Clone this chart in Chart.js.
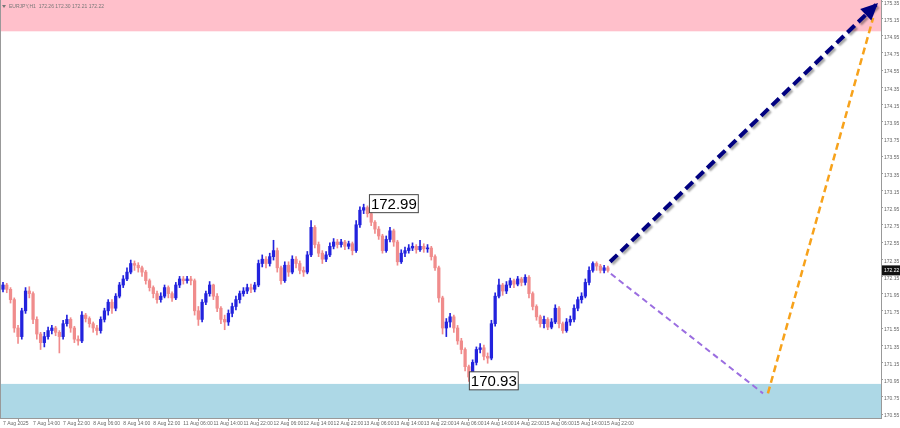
<!DOCTYPE html>
<html>
<head>
<meta charset="utf-8">
<script src="https://cdn.jsdelivr.net/npm/chart.js@4.4.1/dist/chart.umd.min.js"></script>
<style>
  html, body { margin: 0; padding: 0; background: #fff; }
</style>
</head>
<body>
<canvas id="chart" width="900" height="428"></canvas>
<script>
// hourly candles, bar index 0..161 (open = previous close)
const firstOpen = 172.00;
const closes = [
  172.05, 172.00, 171.88, 171.55, 171.45, 171.75, 171.98, 171.95, 171.65, 171.48,
  171.38, 171.45, 171.52, 171.55, 171.50, 171.45, 171.60, 171.65, 171.55, 171.42,
  171.40, 171.70, 171.66, 171.60, 171.55, 171.52, 171.65, 171.75, 171.85, 171.78,
  171.92, 172.05, 172.12, 172.20, 172.30, 172.28, 172.25, 172.20, 172.10, 172.02,
  171.95, 171.88, 171.92, 172.02, 171.95, 171.90, 172.05, 172.12, 172.10, 172.12,
  172.10, 171.75, 171.65, 171.85, 171.95, 172.05, 171.92, 171.78, 171.65, 171.62,
  171.72, 171.80, 171.88, 171.95, 171.98, 172.02, 172.00, 172.05, 172.30, 172.35,
  172.30, 172.38, 172.45, 172.25, 172.10, 172.28, 172.20, 172.35, 172.30, 172.22,
  172.20, 172.40, 172.72, 172.52, 172.42, 172.35, 172.40, 172.50, 172.55, 172.52,
  172.55, 172.50, 172.53, 172.45, 172.75, 172.92, 172.95, 172.88, 172.78, 172.70,
  172.62, 172.45, 172.58, 172.68, 172.55, 172.32, 172.42, 172.45, 172.48, 172.50,
  172.46, 172.50, 172.47, 172.48, 172.38, 172.25, 171.90, 171.55, 171.62, 171.68,
  171.55, 171.40, 171.30, 171.10, 170.98, 171.15, 171.30, 171.32, 171.22, 171.20,
  171.60, 171.92, 172.05, 171.98, 172.05, 172.10, 172.06, 172.12, 172.08, 172.14,
  171.95, 171.80, 171.68, 171.60, 171.65, 171.56, 171.62, 171.78, 171.60, 171.52,
  171.62, 171.65, 171.78, 171.88, 171.92, 172.08, 172.22, 172.30, 172.27, 172.22,
  172.25, 172.22
];
const highs = [
  172.08, 172.07, 172.02, 171.90, 171.58, 171.78, 172.02, 172.03, 171.97, 171.68,
  171.50, 171.50, 171.56, 171.58, 171.57, 171.52, 171.64, 171.70, 171.67, 171.57,
  171.46, 171.74, 171.72, 171.68, 171.62, 171.58, 171.68, 171.78, 171.88, 171.88,
  171.95, 172.08, 172.16, 172.25, 172.34, 172.33, 172.31, 172.27, 172.22, 172.12,
  172.04, 171.98, 171.96, 172.05, 172.04, 171.97, 172.08, 172.15, 172.15, 172.15,
  172.15, 172.12, 171.80, 171.88, 171.98, 172.09, 172.06, 171.95, 171.80, 171.70,
  171.76, 171.84, 171.92, 171.98, 172.02, 172.06, 172.06, 172.08, 172.34, 172.40,
  172.38, 172.42, 172.57, 172.48, 172.27, 172.32, 172.32, 172.39, 172.38, 172.33,
  172.26, 172.44, 172.80, 172.74, 172.55, 172.45, 172.44, 172.54, 172.59, 172.58,
  172.58, 172.57, 172.56, 172.55, 172.80, 172.96, 172.99, 172.97, 172.90, 172.80,
  172.73, 172.64, 172.62, 172.72, 172.70, 172.57, 172.46, 172.49, 172.52, 172.54,
  172.52, 172.57, 172.53, 172.52, 172.50, 172.40, 172.27, 171.92, 171.66, 171.72,
  171.70, 171.58, 171.43, 171.32, 171.12, 171.18, 171.33, 171.37, 171.35, 171.26,
  171.64, 171.96, 172.12, 172.07, 172.09, 172.13, 172.12, 172.15, 172.14, 172.17,
  172.16, 171.97, 171.82, 171.70, 171.69, 171.67, 171.66, 171.82, 171.80, 171.62,
  171.66, 171.69, 171.82, 171.91, 171.96, 172.12, 172.26, 172.32, 172.32, 172.29,
  172.28, 172.27
];
const lows = [
  171.97, 171.96, 171.84, 171.50, 171.37, 171.42, 171.72, 171.90, 171.60, 171.42,
  171.30, 171.33, 171.42, 171.48, 171.46, 171.26, 171.42, 171.57, 171.50, 171.38,
  171.35, 171.38, 171.62, 171.56, 171.50, 171.47, 171.49, 171.62, 171.70, 171.72,
  171.75, 171.90, 172.02, 172.10, 172.18, 172.22, 172.20, 172.15, 172.06, 171.98,
  171.90, 171.84, 171.85, 171.90, 171.90, 171.86, 171.88, 172.02, 172.06, 172.07,
  172.05, 171.70, 171.58, 171.62, 171.82, 171.92, 171.88, 171.74, 171.60, 171.53,
  171.58, 171.68, 171.76, 171.84, 171.92, 171.95, 171.96, 171.97, 172.03, 172.26,
  172.25, 172.27, 172.34, 172.20, 172.06, 172.08, 172.15, 172.18, 172.25, 172.18,
  172.15, 172.18, 172.38, 172.48, 172.38, 172.30, 172.32, 172.38, 172.47, 172.48,
  172.49, 172.46, 172.47, 172.40, 172.43, 172.72, 172.88, 172.84, 172.74, 172.65,
  172.58, 172.42, 172.43, 172.55, 172.50, 172.28, 172.30, 172.38, 172.42, 172.45,
  172.42, 172.44, 172.43, 172.43, 172.34, 172.22, 171.85, 171.48, 171.45, 171.56,
  171.50, 171.36, 171.25, 171.05, 170.93, 170.96, 171.12, 171.26, 171.18, 171.14,
  171.18, 171.57, 171.90, 171.93, 171.95, 172.02, 172.02, 172.04, 172.04, 172.05,
  171.90, 171.76, 171.64, 171.56, 171.55, 171.53, 171.54, 171.60, 171.55, 171.49,
  171.50, 171.58, 171.62, 171.75, 171.84, 171.90, 172.05, 172.20, 172.22, 172.19,
  172.19, 172.20
];

const xTickBars = [0, 8, 16, 24, 32, 40, 48, 56, 64, 72, 80, 88, 96, 104, 112, 120, 128, 136, 144, 152, 160];
const xLabels = ['7 Aug 2025', '7 Aug 14:00', '7 Aug 22:00', '8 Aug 06:00', '8 Aug 14:00', '8 Aug 22:00',
  '11 Aug 06:00', '11 Aug 14:00', '11 Aug 22:00', '12 Aug 06:00', '12 Aug 14:00', '12 Aug 22:00',
  '13 Aug 06:00', '13 Aug 14:00', '13 Aug 22:00', '14 Aug 06:00', '14 Aug 14:00', '14 Aug 22:00',
  '15 Aug 06:00', '15 Aug 14:00', '15 Aug 22:00'];
const yTicks = [175.35, 175.15, 174.95, 174.75, 174.55, 174.35, 174.15, 173.95, 173.75, 173.55, 173.35,
  173.15, 172.95, 172.75, 172.55, 172.35, 172.15, 171.95, 171.75, 171.55, 171.35, 171.15, 170.95, 170.75, 170.55];

// zones and forecast paths
const resistanceZone = [175.00, 175.40];
const supportZone = [170.40, 170.90];
const mainX = [161.6, 232.9];
const mainY = [172.32, 175.33];
const dipX = [161.8, 202.3];
const dipY = [172.18, 170.79];
const riseX = [203.6, 231.6];
const riseY = [170.79, 175.155];
const markBars = [97.4, 124.0];
const markValues = [172.99, 170.93];
const header = 'EURJPY,H1  172.26 172.30 172.21 172.22';

const opens = closes.map((c, i) => i === 0 ? firstOpen : closes[i - 1]);
const bullColor = '#2222dd';
const bearColor = '#f08c8c';
const candleColors = closes.map((c, i) => c >= opens[i] ? bullColor : bearColor);
const tickFont = { size: 5, family: '"Liberation Sans", Arial, sans-serif' };

const zonesPlugin = {
  id: 'zones',
  beforeDatasetsDraw(chart) {
    const { ctx, chartArea, scales } = chart;
    const y = scales.y;
    ctx.save();
    ctx.beginPath();
    ctx.rect(chartArea.left, chartArea.top, chartArea.right - chartArea.left, chartArea.bottom - chartArea.top);
    ctx.clip();
    ctx.fillStyle = '#ffc0cb';
    let t = y.getPixelForValue(resistanceZone[1]), b = y.getPixelForValue(resistanceZone[0]);
    ctx.fillRect(chartArea.left, t, chartArea.right - chartArea.left, b - t);
    ctx.fillStyle = '#add8e6';
    t = y.getPixelForValue(supportZone[1]); b = y.getPixelForValue(supportZone[0]);
    ctx.fillRect(chartArea.left, t, chartArea.right - chartArea.left, b - t);
    ctx.restore();
  }
};

const shadowPlugin = {
  id: 'shadow',
  beforeDatasetDraw(chart, args) {
    if (args.index === 0) {
      const ctx = chart.ctx;
      ctx.save();
      ctx.shadowColor = 'rgba(0,0,0,0.35)';
      ctx.shadowBlur = 2;
      ctx.shadowOffsetX = 2;
      ctx.shadowOffsetY = 2;
    }
  },
  afterDatasetDraw(chart, args) {
    if (args.index === 0) chart.ctx.restore();
  }
};

const overlayPlugin = {
  id: 'overlay',
  afterDatasetsDraw(chart) {
    const { ctx, scales } = chart;
    // arrow head on main forecast
    const pts = chart.getDatasetMeta(0).data;
    const p0 = pts[0], p1 = pts[pts.length - 1];
    const ang = Math.atan2(p1.y - p0.y, p1.x - p0.x);
    const len = 17, half = 8;
    ctx.save();
    ctx.fillStyle = '#000080';
    ctx.beginPath();
    ctx.moveTo(p1.x, p1.y);
    ctx.lineTo(p1.x - len * Math.cos(ang) + half * Math.sin(ang), p1.y - len * Math.sin(ang) - half * Math.cos(ang));
    ctx.lineTo(p1.x - len * Math.cos(ang) - half * Math.sin(ang), p1.y - len * Math.sin(ang) + half * Math.cos(ang));
    ctx.closePath();
    ctx.fill();
    ctx.restore();

    // price marks
    ctx.save();
    ctx.font = '15px "Liberation Sans", Arial, sans-serif';
    ctx.textBaseline = 'middle';
    markValues.forEach((v, i) => {
      const x = scales.x.getPixelForValue(markBars[i]);
      const y = scales.y.getPixelForValue(v);
      const txt = v.toFixed(2);
      const w = ctx.measureText(txt).width;
      ctx.fillStyle = '#fff';
      ctx.fillRect(x + 0.5, y - 9.5, w + 3, 18);
      ctx.strokeStyle = '#444';
      ctx.lineWidth = 1;
      ctx.strokeRect(x + 0.5, y - 9.5, w + 3, 18);
      ctx.fillStyle = '#000';
      ctx.fillText(txt, x + 2, y + 0.5);
    });
    ctx.restore();
  },
  afterDraw(chart) {
    const { ctx, scales, chartArea } = chart;
    ctx.save();
    // frame left edge
    ctx.strokeStyle = '#999';
    ctx.lineWidth = 1;
    ctx.beginPath();
    ctx.moveTo(chartArea.left + 0.5, chartArea.top);
    ctx.lineTo(chartArea.left + 0.5, chartArea.bottom);
    ctx.stroke();
    // current price tag
    const last = closes[closes.length - 1];
    const py = scales.y.getPixelForValue(last);
    ctx.fillStyle = '#111';
    ctx.fillRect(chartArea.right + 1, py - 5, 18, 10);
    ctx.fillStyle = '#fff';
    ctx.font = '5px "Liberation Sans", Arial, sans-serif';
    ctx.textBaseline = 'middle';
    ctx.fillText(last.toFixed(2), chartArea.right + 3, py);
    // header
    ctx.fillStyle = '#777';
    ctx.beginPath();
    ctx.moveTo(2, 5); ctx.lineTo(6, 5); ctx.lineTo(4, 8); ctx.closePath();
    ctx.fill();
    ctx.fillText(header, 9, 6.5);
    ctx.restore();
  }
};

new Chart(document.getElementById('chart').getContext('2d'), {
  type: 'bar',
  data: {
    datasets: [
      {
        type: 'line',
        data: mainX.map((x, i) => ({ x, y: mainY[i] })),
        borderColor: '#000080',
        borderWidth: 4,
        borderDash: [10, 5],
        pointRadius: 0,
        fill: false
      },
      {
        type: 'line',
        data: dipX.map((x, i) => ({ x, y: dipY[i] })),
        borderColor: '#9b6ee0',
        borderWidth: 2,
        borderDash: [6, 4],
        pointRadius: 0,
        fill: false
      },
      {
        type: 'line',
        data: riseX.map((x, i) => ({ x, y: riseY[i] })),
        borderColor: '#f7a21b',
        borderWidth: 2.5,
        borderDash: [7, 4],
        pointRadius: 0,
        fill: false
      },
      {
        data: closes.map((c, i) => ({ x: i, y: [opens[i], c] })),
        backgroundColor: candleColors,
        barThickness: 2.6,
        minBarLength: 1,
        grouped: false
      },
      {
        data: closes.map((c, i) => ({ x: i, y: [lows[i], highs[i]] })),
        backgroundColor: candleColors,
        barThickness: 1,
        grouped: false
      }
    ]
  },
  options: {
    responsive: false,
    animation: false,
    layout: { padding: 0 },
    plugins: {
      legend: { display: false },
      tooltip: { enabled: false }
    },
    scales: {
      x: {
        type: 'linear',
        min: -0.8,
        max: 233.7,
        offset: false,
        grid: { display: true, drawOnChartArea: false, tickLength: 3, color: '#999' },
        border: { display: true, color: '#999' },
        ticks: {
          autoSkip: false,
          maxRotation: 0,
          align: 'start',
          padding: 0,
          color: '#666',
          font: tickFont,
          callback: (v, i) => xLabels[i]
        },
        afterBuildTicks: (s) => { s.ticks = xTickBars.map(v => ({ value: v })); },
        afterFit: (s) => { s.height = 10; s.paddingLeft = 0; s.paddingRight = 0; }
      },
      y: {
        position: 'right',
        min: 170.5035,
        max: 175.364,
        grid: { display: true, drawOnChartArea: false, tickLength: 2, color: '#999' },
        border: { display: true, color: '#999' },
        ticks: {
          padding: 1,
          color: '#666',
          labelOffset: 2,
          font: tickFont,
          callback: (v) => Number(v).toFixed(2)
        },
        afterBuildTicks: (s) => { s.ticks = yTicks.map(v => ({ value: v })); },
        afterFit: (s) => { s.width = 19; s.paddingTop = 0; s.paddingBottom = 0; }
      }
    }
  },
  plugins: [zonesPlugin, shadowPlugin, overlayPlugin]
});
</script>
</body>
</html>
